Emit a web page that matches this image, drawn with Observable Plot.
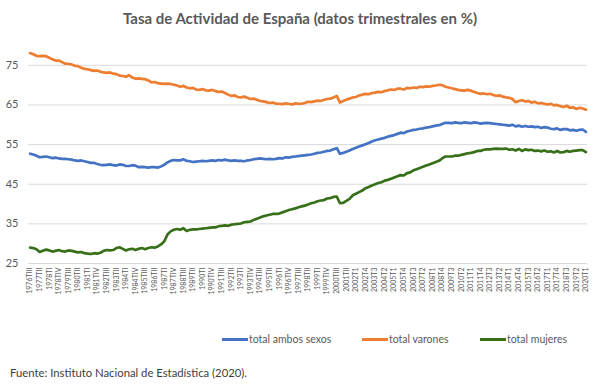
<!DOCTYPE html>
<html>
<head>
<meta charset="utf-8">
<script src="https://cdn.jsdelivr.net/npm/d3@7"></script>
<script src="https://cdn.jsdelivr.net/npm/@observablehq/plot@0.6"></script>
<style>
  html, body { margin: 0; padding: 0; background: #fff; }
  #wrap { position: relative; width: 600px; height: 387px; font-family: Lato, "Open Sans", sans-serif; color: #595959; overflow: hidden; }
  #title { position: absolute; left: 0; top: 9px; width: 600px; text-align: center; font-size: 15px; font-weight: bold; color: #595959; }
  #chart { position: absolute; left: 0; top: 30px; }
  #legend { position: absolute; left: 0; top: 333px; width: 600px; font-size: 10.5px; color: #595959; }
  .li { position: absolute; top: 0; display: flex; align-items: center; white-space: nowrap; }
  .sw { display: inline-block; width: 26px; height: 3px; margin-right: 1px; }
  #caption { position: absolute; left: 10px; top: 366px; font-size: 11.3px; color: #404040; }
</style>
</head>
<body>
<div id="wrap">
  <div id="title">Tasa de Actividad de España (datos trimestrales en %)</div>
  <div id="chart"></div>
  <div id="legend"></div>
  <div id="caption">Fuente: Instituto Nacional de Estadística (2020).</div>
</div>
<script>
// ---- data ----
const seriesNames = ["total ambos sexos", "total varones", "total mujeres"];
const seriesColors = ["#4472C4", "#ED7D31", "#38701A"];

const tickLabels = ["1976TIII","1977TII","1978TI","1978TIV","1979TIII","1980TII","1981TI","1981TIV","1982TIII","1983TII","1984TI","1984TIV","1985TIII","1986TII","1987TI","1987TIV","1988TIII","1989TII","1990TI","1990TIV","1991TIII","1992TII","1993TI","1993TIV","1994TIII","1995TII","1996TI","1996TIV","1997TIII","1998TII","1999TI","1999TIV","2000TIII","2001TII","2002T1","2002T4","2003T3","2004T2","2005T1","2005T4","2006T3","2007T2","2008T1","2008T4","2009T3","2010T2","2011T1","2011T4","2012T3","2013T2","2014T1","2014T4","2015T3","2016T2","2017T1","2017T4","2018T3","2019T2","2020T1"];

const ambosSexos = [
52.7,52.5,52.2,51.8,51.9,52.0,51.8,51.6,51.7,51.5,
51.4,51.4,51.3,51.2,51.0,50.9,51.0,50.8,50.6,50.4,
50.4,50.1,49.9,49.8,49.9,50.0,49.8,49.7,50.0,49.9,
49.6,49.6,49.8,49.7,49.3,49.4,49.3,49.2,49.3,49.3,
49.2,49.5,49.9,50.5,50.9,51.1,51.0,51.0,51.3,50.9,
50.8,50.6,50.7,50.8,50.9,50.8,50.9,51.0,50.9,51.1,
51.0,51.2,51.0,50.9,51.0,50.9,50.9,50.8,51.0,51.1,
51.3,51.4,51.5,51.4,51.3,51.4,51.3,51.4,51.6,51.5,
51.8,51.7,51.9,52.0,52.1,52.2,52.3,52.4,52.5,52.7,
52.9,53.0,53.2,53.4,53.5,53.8,54.1,52.7,52.9,53.2,
53.5,53.9,54.2,54.5,54.8,55.1,55.4,55.8,56.1,56.3,
56.5,56.7,57.0,57.2,57.4,57.7,58.0,57.9,58.3,58.5,
58.7,58.8,59.0,59.1,59.3,59.4,59.6,59.8,59.9,60.2,
60.5,60.5,60.4,60.6,60.5,60.4,60.6,60.5,60.4,60.6,
60.5,60.3,60.4,60.5,60.4,60.3,60.2,60.1,60.0,59.9,
59.8,60.0,59.6,59.8,59.5,59.7,59.5,59.6,59.4,59.5,
59.2,59.4,59.3,59.0,58.9,59.1,58.7,58.9,58.9,58.6,
58.7,58.5,58.7,58.8,58.2
];

const varones = [
78.1,77.8,77.4,77.3,77.4,77.3,76.9,76.5,76.2,76.2,
75.8,75.4,75.4,75.2,74.9,74.8,74.4,74.1,74.0,73.8,
73.6,73.7,73.4,73.2,73.1,73.2,72.9,72.8,72.4,72.3,
72.1,72.5,71.9,71.6,71.7,71.6,71.5,71.2,70.7,70.8,
70.5,70.4,70.3,70.4,70.3,70.1,69.9,69.6,69.8,69.4,
69.2,69.3,68.9,68.8,69.0,68.7,68.6,68.8,68.5,68.3,
68.4,68.0,67.6,67.3,67.4,67.0,66.9,67.1,66.8,66.5,
66.6,66.3,66.0,65.9,65.7,65.5,65.6,65.3,65.3,65.2,
65.4,65.3,65.1,65.4,65.3,65.3,65.5,65.8,65.7,65.9,
66.1,66.0,66.3,66.5,66.6,66.9,67.3,65.6,66.0,66.3,
66.6,66.9,67.0,67.4,67.6,67.8,67.7,68.0,68.1,68.3,
68.2,68.5,68.7,68.9,68.8,69.1,69.1,68.9,69.3,69.2,
69.4,69.3,69.6,69.5,69.7,69.6,69.8,69.9,70.1,70.0,
69.6,69.4,69.2,69.0,68.8,68.7,68.6,68.8,68.6,68.3,
68.0,67.8,67.9,67.7,67.8,67.5,67.3,67.4,67.1,66.9,
66.8,66.5,65.7,66.0,66.2,65.9,66.0,65.6,65.8,65.4,
65.5,65.3,65.1,65.3,64.9,65.0,64.7,64.5,64.8,64.3,
64.4,64.0,64.3,64.1,63.8
];

const mujeres = [
29.0,28.9,28.6,27.9,28.2,28.5,28.3,28.0,28.2,28.4,
28.1,28.0,28.3,28.2,28.0,27.8,27.9,27.6,27.5,27.4,
27.6,27.5,27.7,28.2,28.4,28.3,28.4,28.9,29.1,28.7,
28.3,28.6,28.7,28.4,28.7,28.9,28.6,28.9,29.1,29.0,
29.3,29.8,30.6,32.3,33.1,33.5,33.7,33.5,33.9,33.2,
33.5,33.6,33.6,33.7,33.8,33.9,34.0,34.1,34.1,34.4,
34.5,34.6,34.5,34.8,34.9,35.0,35.1,35.4,35.5,35.6,
36.0,36.3,36.6,36.9,37.1,37.3,37.5,37.5,37.6,37.9,
38.2,38.5,38.7,38.9,39.2,39.4,39.6,39.9,40.2,40.4,
40.7,40.9,41.0,41.4,41.5,41.8,41.9,40.2,40.3,40.8,
41.3,42.2,42.6,43.0,43.4,44.0,44.3,44.7,45.0,45.3,
45.5,45.9,46.1,46.4,46.7,47.0,47.3,47.2,47.8,48.0,
48.5,48.8,49.1,49.4,49.7,50.0,50.3,50.6,50.9,51.5,
52.0,52.0,52.0,52.2,52.2,52.4,52.6,52.8,52.9,53.1,
53.4,53.4,53.7,53.8,53.8,53.9,54.0,53.9,53.9,54.0,
53.7,53.8,53.5,53.9,53.4,53.8,53.6,53.7,53.4,53.5,
53.3,53.5,53.2,53.3,53.0,53.4,53.0,53.1,53.4,53.2,
53.4,53.5,53.6,53.6,53.1
];

const yTicks = [25, 35, 45, 55, 65, 75];

// ---- quarter categories (1976 TIII .. 2020 T1) ----
const roman = ["I", "II", "III", "IV"];
const quarters = [];
for (let y = 1976, q = 3; ; q++) {
  if (q > 4) { q = 1; y++; }
  quarters.push(y + "T" + (y < 2002 ? roman[q - 1] : String(q)));
  if (y === 2020 && q === 1) break;
}

const series = [ambosSexos, varones, mujeres];

const chart = Plot.plot({
  width: 600,
  height: 290,
  marginLeft: 28,
  marginRight: 13,
  marginTop: 15,
  marginBottom: 57,
  style: { fontFamily: "Lato, 'Open Sans', sans-serif", color: "#595959", background: "white", overflow: "visible" },
  x: { type: "point", domain: quarters, padding: 0.5, label: null },
  y: { domain: [25, 80], label: null },
  marks: [
    Plot.gridY(yTicks, { stroke: "#d9d9d9", strokeOpacity: 1, strokeWidth: 1 }),
    Plot.axisY(yTicks, { tickSize: 0, tickPadding: 10, fontSize: 11, label: null, fill: "#595959" }),
    Plot.axisX(tickLabels, { tickSize: 0, tickPadding: 4, tickRotate: -90, fontSize: 7, label: null, fill: "#595959" }),
    ...series.map((s, k) => Plot.line(s, {
      x: (d, i) => quarters[i],
      y: d => d,
      stroke: seriesColors[k],
      strokeWidth: 2.7,
      strokeLinejoin: "round",
      strokeLinecap: "round"
    }))
  ]
});
document.getElementById("chart").appendChild(chart);

// legend
const legendPos = [222, 362, 480];
const legend = document.getElementById("legend");
seriesNames.forEach((n, k) => {
  const d = document.createElement("div");
  d.className = "li";
  d.style.left = legendPos[k] + "px";
  d.innerHTML = `<span class="sw" style="background:${seriesColors[k]}"></span><span>${n}</span>`;
  legend.appendChild(d);
});
</script>
</body>
</html>
